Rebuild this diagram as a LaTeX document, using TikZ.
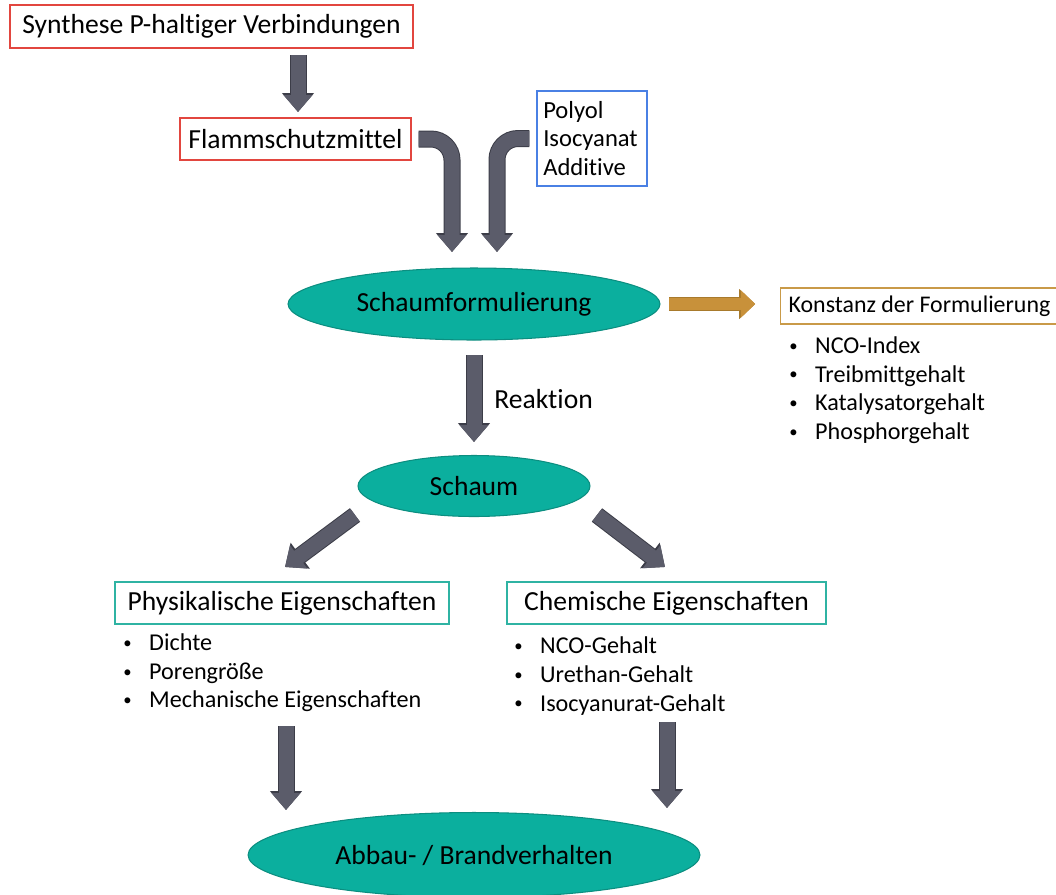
\documentclass[tikz,border=0pt]{standalone}
\usepackage{fontspec}
\setmainfont{Carlito}[Ligatures=NoCommon]
\usetikzlibrary{arrows.meta,shapes.geometric,positioning}
\definecolor{rotrand}{HTML}{E2463F}
\definecolor{blaurand}{HTML}{4A80E4}
\definecolor{goldrand}{HTML}{C99A48}
\definecolor{tuerkisrand}{HTML}{2FB3A3}
\definecolor{tuerkis}{HTML}{0BAF9E}
\definecolor{tuerkisdunkel}{HTML}{0C8E80}
\definecolor{pfeilgrau}{HTML}{5B5C6A}
\definecolor{pfeilrand}{HTML}{3C3D48}
\definecolor{pfeilgold}{HTML}{C8913A}
\definecolor{goldrandpf}{HTML}{A87A2C}
\newcommand{\pkt}{\makebox[14.7pt][l]{\raisebox{1.2pt}{\fontsize{9.5}{10}\selectfont\textbullet}}}
\begin{document}
\begin{tikzpicture}[x=0.02cm,y=-0.02cm,every node/.style={font=\fontsize{15.7}{18}\selectfont}]
    \tikzset{
      kasten/.style={draw,line width=0.8pt,inner sep=0pt},
      oval/.style={ellipse,draw=tuerkisdunkel,fill=tuerkis,line width=0.6pt,inner sep=0pt},
      liste/.style={align=left,inner sep=0pt,anchor=west,font=\fontsize{13.75}{16.3}\selectfont},
      blockpfeil/.style={draw=pfeilgrau,line width=0.3cm,-{Triangle[length=0.34cm,width=0.56cm]},
        preaction={draw=pfeilrand,line width=0.34cm,-{Triangle[length=0.38cm,width=0.62cm]}}},
      goldpfeil/.style={draw=pfeilgold,line width=0.24cm,-{Triangle[length=0.28cm,width=0.52cm]},
        preaction={draw=goldrandpf,line width=0.28cm,-{Triangle[length=0.32cm,width=0.58cm]}}}
    }
    \clip (0,0) rectangle (1056,894);

    % obere Reihe
    \node[kasten,draw=rotrand,minimum width=8.06cm,minimum height=0.86cm] (synth) at (211.5,26.5) {Synthese P-haltiger Verbindungen};
    \node[kasten,draw=rotrand,minimum width=4.62cm,minimum height=0.84cm] (flamm) at (295.5,139) {Flammschutzmittel};
    \node[kasten,draw=blaurand,minimum width=2.2cm,minimum height=1.9cm,align=left,text width=1.95cm,font=\fontsize{14}{16.4}\selectfont] (komp) at (592,138.5) {Polyol\\Isocyanat\\Additive};

    % Formulierung
    \node[oval,minimum width=7.44cm,minimum height=1.44cm] (formul) at (474,304) {Schaumformulierung};
    \node[kasten,draw=goldrand,minimum width=5.56cm,minimum height=0.72cm,font=\fontsize{13.6}{16}\selectfont] (konst) at (919.5,306) {Konstanz der Formulierung};
    \node[liste] (konstliste) at (789,390) {\pkt NCO-Index\\\pkt Treibmittgehalt\\\pkt Katalysatorgehalt\\\pkt Phosphorgehalt};

    % Schaum
    \node[oval,minimum width=4.64cm,minimum height=1.22cm] (schaum) at (474,486) {Schaum};
    \node[anchor=west,inner sep=0pt] (reakt) at (494,399) {Reaktion};

    % Eigenschaften
    \node[kasten,draw=tuerkisrand,minimum width=6.68cm,minimum height=0.84cm] (phys) at (282,603) {Physikalische Eigenschaften};
    \node[kasten,draw=tuerkisrand,minimum width=6.38cm,minimum height=0.84cm] (chem) at (666.5,603) {Chemische Eigenschaften};
    \node[liste] (physliste) at (123,673) {\pkt Dichte\\\pkt Porengröße\\\pkt Mechanische Eigenschaften};
    \node[liste] (chemliste) at (514,676) {\pkt NCO-Gehalt\\\pkt Urethan-Gehalt\\\pkt Isocyanurat-Gehalt};

    \node[oval,minimum width=9.04cm,minimum height=1.7cm] (abbau) at (474,855) {Abbau- / Brandverhalten};

    % Pfeilenden
    \coordinate (ein1) at (452,252);
    \coordinate (ein2) at (497,252);
    \coordinate (links) at (285,567);
    \coordinate (rechts) at (665,567);

    \draw[blockpfeil] (298,55) -- (298,112);
    \draw[blockpfeil,rounded corners=12pt] ([xshift=4pt]flamm.east) -| (ein1);
    \draw[blockpfeil,rounded corners=12pt] ([xshift=-4pt]komp.west) -| (ein2);
    \draw[goldpfeil] ([xshift=5pt]formul.east) -- ([xshift=-14pt]formul.east -| konst.west);
    \draw[blockpfeil] (474,355) -- (474,442);
    \draw[blockpfeil] (355,515) -- (links);
    \draw[blockpfeil] (597,515) -- (rechts);
    \draw[blockpfeil] (286,726) -- (286,810);
    \draw[blockpfeil] (667,722) -- (667,808);
\end{tikzpicture}
\end{document}
